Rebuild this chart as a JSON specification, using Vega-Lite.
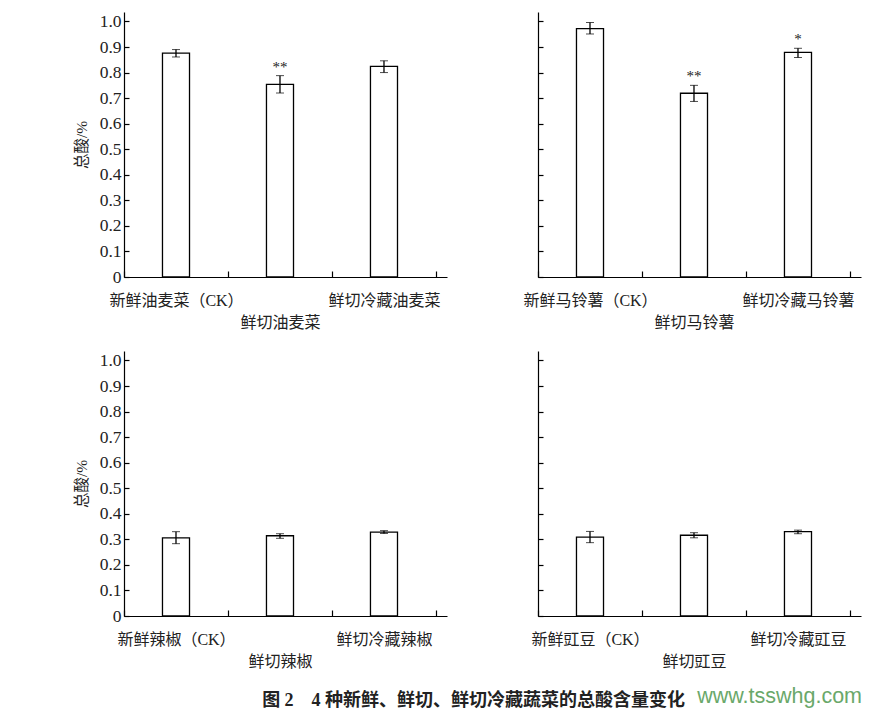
{
  "$schema": "https://vega.github.io/schema/vega-lite/v6.json",
  "padding": {"left": 74, "top": 12, "right": 5, "bottom": 2},
  "background": "white",
  "datasets": {
    "d": [
      {"veg": "油麦菜", "group": "新鲜油麦菜（CK）", "ord": 1, "v": 0.876, "lo": 0.861, "hi": 0.890, "sig": ""},
      {"veg": "油麦菜", "group": "鲜切油麦菜", "ord": 2, "v": 0.754, "lo": 0.720, "hi": 0.788, "sig": "**"},
      {"veg": "油麦菜", "group": "鲜切冷藏油麦菜", "ord": 3, "v": 0.824, "lo": 0.800, "hi": 0.846, "sig": ""},
      {"veg": "马铃薯", "group": "新鲜马铃薯（CK）", "ord": 1, "v": 0.972, "lo": 0.951, "hi": 0.996, "sig": ""},
      {"veg": "马铃薯", "group": "鲜切马铃薯", "ord": 2, "v": 0.719, "lo": 0.687, "hi": 0.750, "sig": "**"},
      {"veg": "马铃薯", "group": "鲜切冷藏马铃薯", "ord": 3, "v": 0.879, "lo": 0.859, "hi": 0.895, "sig": "*"},
      {"veg": "辣椒", "group": "新鲜辣椒（CK）", "ord": 1, "v": 0.306, "lo": 0.283, "hi": 0.330, "sig": ""},
      {"veg": "辣椒", "group": "鲜切辣椒", "ord": 2, "v": 0.314, "lo": 0.304, "hi": 0.322, "sig": ""},
      {"veg": "辣椒", "group": "鲜切冷藏辣椒", "ord": 3, "v": 0.328, "lo": 0.323, "hi": 0.334, "sig": ""},
      {"veg": "豇豆", "group": "新鲜豇豆（CK）", "ord": 1, "v": 0.309, "lo": 0.287, "hi": 0.331, "sig": ""},
      {"veg": "豇豆", "group": "鲜切豇豆", "ord": 2, "v": 0.316, "lo": 0.306, "hi": 0.326, "sig": ""},
      {"veg": "豇豆", "group": "鲜切冷藏豇豆", "ord": 3, "v": 0.330, "lo": 0.322, "hi": 0.336, "sig": ""}
    ]
  },
  "title": {"text": "www.tsswhg.com", "orient": "bottom", "anchor": "start", "frame": "bounds", "dx": 623, "dy": -28, "font": "Liberation Sans", "fontSize": 21.5, "fontWeight": "normal", "color": "#6aa86a"},
  "vconcat": [
    {
      "title": {"text": "图 2　4 种新鲜、鲜切、鲜切冷藏蔬菜的总酸含量变化", "orient": "bottom", "anchor": "start", "frame": "bounds", "dx": 188, "offset": 23, "font": "Liberation Serif, Noto Sans CJK SC", "fontSize": 18, "fontWeight": "bold", "color": "#222"},
      "spacing": 21,
      "vconcat": [
        {
          "spacing": 75,
          "hconcat": [
            {
              "width": 323, "height": 265,
              "data": {"name": "d"},
              "transform": [{"filter": "datum.veg == '油麦菜'"}],
              "encoding": {
                "x": {"field": "group", "type": "nominal", "sort": {"field": "ord", "op": "min"},
                  "scale": {"paddingInner": 0, "paddingOuter": 0.053, "align": 0},
                  "axis": {"title": null, "tickBand": "extent", "tickSize": -6, "labelAngle": 0, "labelPadding": 21, "labelOverlap": false, "labelLineHeight": 22,
                    "labelExpr": "indexof(datum.label,'CK')<0 && indexof(datum.label,'冷藏')<0 ? ['', datum.label] : datum.label"}}
              },
              "layer": [
                {"mark": {"type": "bar", "fill": "white", "stroke": "#000", "strokeWidth": 1.3, "width": {"band": 0.26}},
                 "encoding": {"y": {"field": "v", "type": "quantitative", "scale": {"domain": [0, 1.037], "nice": false},
                   "axis": {"title": "总酸/%", "values": [0, 0.1, 0.2, 0.3, 0.4, 0.5, 0.6, 0.7, 0.8, 0.9, 1], "labelOverlap": false, "labelExpr": "datum.value == 0 ? '0' : format(datum.value, '.1f')", "tickSize": -5, "labelPadding": 8, "titlePadding": 10, "grid": false}}}},
                {"mark": {"type": "errorbar", "ticks": {"size": 8, "color": "#000", "strokeWidth": 1.3}, "rule": {"color": "#000", "strokeWidth": 1.3}},
                 "encoding": {"y": {"field": "lo", "type": "quantitative",
                   "axis": {"title": "总酸/%", "values": [0, 0.1, 0.2, 0.3, 0.4, 0.5, 0.6, 0.7, 0.8, 0.9, 1], "labelOverlap": false, "labelExpr": "datum.value == 0 ? '0' : format(datum.value, '.1f')", "tickSize": -5, "labelPadding": 8, "titlePadding": 10, "grid": false}}, "y2": {"field": "hi"}}},
                {"transform": [{"filter": "datum.sig != ''"}],
                 "mark": {"type": "text", "baseline": "alphabetic", "dy": -4, "font": "Liberation Serif", "fontSize": 15, "fill": "#222"},
                 "encoding": {"y": {"field": "hi", "type": "quantitative",
                   "axis": {"title": "总酸/%", "values": [0, 0.1, 0.2, 0.3, 0.4, 0.5, 0.6, 0.7, 0.8, 0.9, 1], "labelOverlap": false, "labelExpr": "datum.value == 0 ? '0' : format(datum.value, '.1f')", "tickSize": -5, "labelPadding": 8, "titlePadding": 10, "grid": false}}, "text": {"field": "sig"}}}
              ]
            },
            {
              "width": 323, "height": 265,
              "data": {"name": "d"},
              "transform": [{"filter": "datum.veg == '马铃薯'"}],
              "encoding": {
                "x": {"field": "group", "type": "nominal", "sort": {"field": "ord", "op": "min"},
                  "scale": {"paddingInner": 0, "paddingOuter": 0.053, "align": 0},
                  "axis": {"title": null, "tickBand": "extent", "tickSize": -6, "labelAngle": 0, "labelPadding": 21, "labelOverlap": false, "labelLineHeight": 22,
                    "labelExpr": "indexof(datum.label,'CK')<0 && indexof(datum.label,'冷藏')<0 ? ['', datum.label] : datum.label"}}
              },
              "layer": [
                {"mark": {"type": "bar", "fill": "white", "stroke": "#000", "strokeWidth": 1.3, "width": {"band": 0.26}},
                 "encoding": {"y": {"field": "v", "type": "quantitative", "scale": {"domain": [0, 1.037], "nice": false},
                   "axis": {"title": null, "values": [0, 0.1, 0.2, 0.3, 0.4, 0.5, 0.6, 0.7, 0.8, 0.9, 1], "labels": false, "tickSize": -5, "grid": false}}}},
                {"mark": {"type": "errorbar", "ticks": {"size": 8, "color": "#000", "strokeWidth": 1.3}, "rule": {"color": "#000", "strokeWidth": 1.3}},
                 "encoding": {"y": {"field": "lo", "type": "quantitative",
                   "axis": {"title": null, "values": [0, 0.1, 0.2, 0.3, 0.4, 0.5, 0.6, 0.7, 0.8, 0.9, 1], "labels": false, "tickSize": -5, "grid": false}}, "y2": {"field": "hi"}}},
                {"transform": [{"filter": "datum.sig != ''"}],
                 "mark": {"type": "text", "baseline": "alphabetic", "dy": -4, "font": "Liberation Serif", "fontSize": 15, "fill": "#222"},
                 "encoding": {"y": {"field": "hi", "type": "quantitative",
                   "axis": {"title": null, "values": [0, 0.1, 0.2, 0.3, 0.4, 0.5, 0.6, 0.7, 0.8, 0.9, 1], "labels": false, "tickSize": -5, "grid": false}}, "text": {"field": "sig"}}}
              ]
            }
          ]
        },
        {
          "spacing": 83,
          "hconcat": [
            {
              "width": 323, "height": 265,
              "data": {"name": "d"},
              "transform": [{"filter": "datum.veg == '辣椒'"}],
              "encoding": {
                "x": {"field": "group", "type": "nominal", "sort": {"field": "ord", "op": "min"},
                  "scale": {"paddingInner": 0, "paddingOuter": 0.053, "align": 0},
                  "axis": {"title": null, "tickBand": "extent", "tickSize": -6, "labelAngle": 0, "labelPadding": 21, "labelOverlap": false, "labelLineHeight": 22,
                    "labelExpr": "indexof(datum.label,'CK')<0 && indexof(datum.label,'冷藏')<0 ? ['', datum.label] : datum.label"}}
              },
              "layer": [
                {"mark": {"type": "bar", "fill": "white", "stroke": "#000", "strokeWidth": 1.3, "width": {"band": 0.26}},
                 "encoding": {"y": {"field": "v", "type": "quantitative", "scale": {"domain": [0, 1.037], "nice": false},
                   "axis": {"title": "总酸/%", "values": [0, 0.1, 0.2, 0.3, 0.4, 0.5, 0.6, 0.7, 0.8, 0.9, 1], "labelOverlap": false, "labelExpr": "datum.value == 0 ? '0' : format(datum.value, '.1f')", "tickSize": -5, "labelPadding": 8, "titlePadding": 10, "grid": false}}}},
                {"mark": {"type": "errorbar", "ticks": {"size": 8, "color": "#000", "strokeWidth": 1.3}, "rule": {"color": "#000", "strokeWidth": 1.3}},
                 "encoding": {"y": {"field": "lo", "type": "quantitative",
                   "axis": {"title": "总酸/%", "values": [0, 0.1, 0.2, 0.3, 0.4, 0.5, 0.6, 0.7, 0.8, 0.9, 1], "labelOverlap": false, "labelExpr": "datum.value == 0 ? '0' : format(datum.value, '.1f')", "tickSize": -5, "labelPadding": 8, "titlePadding": 10, "grid": false}}, "y2": {"field": "hi"}}}
              ]
            },
            {
              "width": 323, "height": 265,
              "data": {"name": "d"},
              "transform": [{"filter": "datum.veg == '豇豆'"}],
              "encoding": {
                "x": {"field": "group", "type": "nominal", "sort": {"field": "ord", "op": "min"},
                  "scale": {"paddingInner": 0, "paddingOuter": 0.053, "align": 0},
                  "axis": {"title": null, "tickBand": "extent", "tickSize": -6, "labelAngle": 0, "labelPadding": 21, "labelOverlap": false, "labelLineHeight": 22,
                    "labelExpr": "indexof(datum.label,'CK')<0 && indexof(datum.label,'冷藏')<0 ? ['', datum.label] : datum.label"}}
              },
              "layer": [
                {"mark": {"type": "bar", "fill": "white", "stroke": "#000", "strokeWidth": 1.3, "width": {"band": 0.26}},
                 "encoding": {"y": {"field": "v", "type": "quantitative", "scale": {"domain": [0, 1.037], "nice": false},
                   "axis": {"title": null, "values": [0, 0.1, 0.2, 0.3, 0.4, 0.5, 0.6, 0.7, 0.8, 0.9, 1], "labels": false, "tickSize": -5, "grid": false}}}},
                {"mark": {"type": "errorbar", "ticks": {"size": 8, "color": "#000", "strokeWidth": 1.3}, "rule": {"color": "#000", "strokeWidth": 1.3}},
                 "encoding": {"y": {"field": "lo", "type": "quantitative",
                   "axis": {"title": null, "values": [0, 0.1, 0.2, 0.3, 0.4, 0.5, 0.6, 0.7, 0.8, 0.9, 1], "labels": false, "tickSize": -5, "grid": false}}, "y2": {"field": "hi"}}}
              ]
            }
          ]
        }
      ]
    }
  ],
  "config": {
    "view": {"stroke": null},
    "axis": {"domainColor": "#000", "domainWidth": 1.2, "tickColor": "#000", "tickWidth": 1.2, "labelColor": "#222", "titleColor": "#222",
      "labelFont": "Liberation Serif, Noto Sans CJK SC", "titleFont": "Liberation Serif, Noto Sans CJK SC", "titleFontWeight": "normal", "labelFontSize": 17.5, "titleFontSize": 15.5},
    "axisX": {"labelFontSize": 16}
  }
}
